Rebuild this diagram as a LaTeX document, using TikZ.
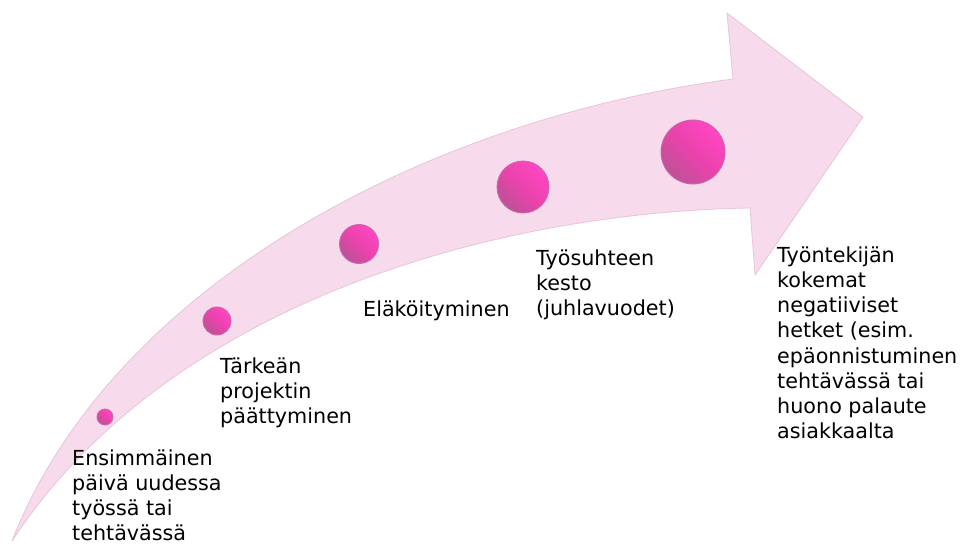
\documentclass[tikz,border=0pt]{standalone}
\usepackage{fontspec}
\setmainfont{DejaVu Sans}
\definecolor{arrowpink}{RGB}{247,219,236}
\definecolor{arrowedge}{RGB}{232,196,218}
\definecolor{sphlight}{RGB}{255,70,195}
\definecolor{sphmid}{RGB}{235,66,172}
\definecolor{sphdark}{RGB}{188,82,150}
\definecolor{sphrim}{RGB}{200,105,168}
\begin{document}
\begin{tikzpicture}[x=1pt,y=-1pt,
  lbl/.style={anchor=north west, inner sep=0pt, align=left,
    font=\fontsize{20.7}{25.2}\selectfont, text=black},
  sphere/.style={circle, inner sep=0pt, draw=sphrim, line width=0.9pt,
    top color=sphlight, bottom color=sphdark, middle color=sphmid, shading angle=-45}]
\useasboundingbox (0,0) rectangle (960,544);
% big curved arrow
\fill[arrowpink, draw=arrowedge, line width=0.8pt, line join=round]
  (12,541) .. controls (110,290) and (420,120) .. (733,79)
  -- (727,13) -- (863,117) -- (755,275) -- (750,208)
  .. controls (500,212) and (170,300) .. (12,541)
  -- cycle;
% spheres
\node[sphere, minimum size=16pt] (s1) at (105,417) {};
\node[sphere, minimum size=28pt] (s2) at (217,321) {};
\node[sphere, minimum size=39pt] (s3) at (359,244) {};
\node[sphere, minimum size=52pt] (s4) at (523,187) {};
\node[sphere, minimum size=64pt] (s5) at (693,152) {};
% labels
\node[lbl] (t1) at (72,447.4) {\strut Ensimmäinen\\päivä uudessa\\työssä tai\\tehtävässä};
\node[lbl] (t2) at (220,355.4) {\strut Tärkeän\\projektin\\päättyminen};
\node[lbl] (t3) at (363,298.4) {\strut Eläköityminen};
\node[lbl] (t4) at (536,247.4) {\strut Työsuhteen\\kesto\\(juhlavuodet)};
\node[lbl] (t5) at (777,244.4) {\strut Työntekijän\\kokemat\\negatiiviset\\hetket (esim.\\epäonnistuminen\\tehtävässä tai\\huono palaute\\asiakkaalta};
\end{tikzpicture}
\end{document}
